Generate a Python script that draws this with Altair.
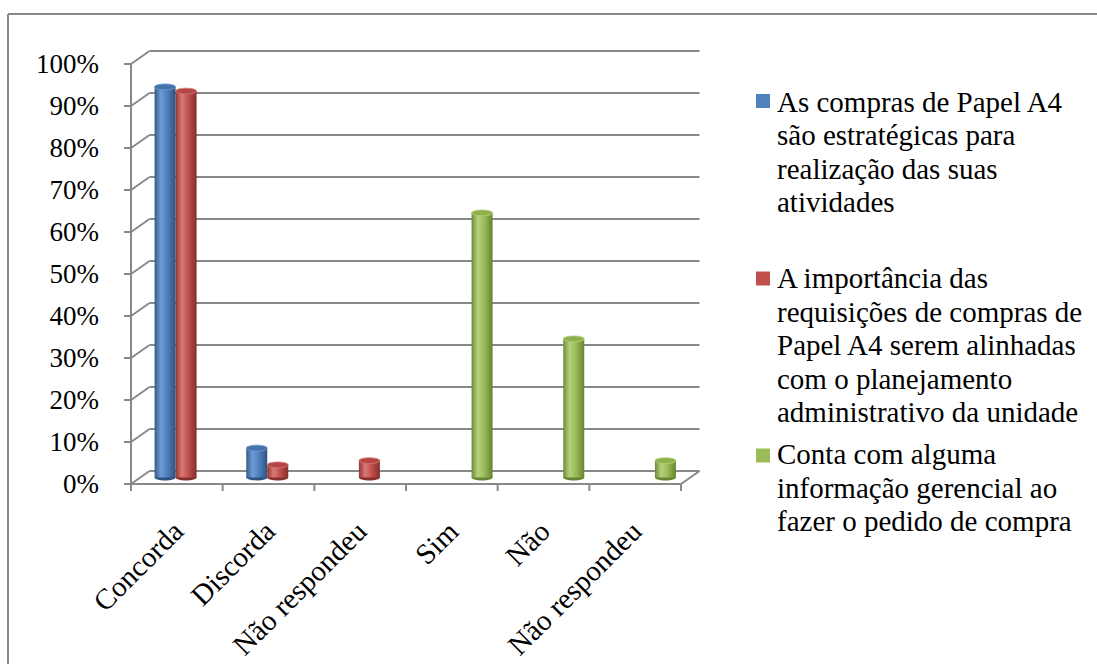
import altair as alt
import pandas as pd

# ---- data ----
categories = ["Concorda", "Discorda", "Não respondeu", "Sim", "Não", "Não respondeu"]
series_labels = [
    "As compras de Papel A4\nsão estratégicas para\nrealização das suas\natividades",
    "A importância das\nrequisições de compras de\nPapel A4 serem alinhadas\ncom o planejamento\nadministrativo da unidade",
    "Conta com alguma\ninformação gerencial ao\nfazer o pedido de compra",
]
compras_estrategicas = [93, 7, None, None, None, None]
importancia_alinhamento = [92, 3, 4, None, None, None]
informacao_gerencial = [None, None, None, 63, 33, 4]
y_ticks = [0, 10, 20, 30, 40, 50, 60, 70, 80, 90, 100]

series_values = [compras_estrategicas, importancia_alinhamento, informacao_gerencial]

# body gradient (dark edge, highlight, base, dark edge) and cap colour per series
palette = [
    {"edge": "#355A88", "light": "#6F9BD6", "base": "#4F81BD", "dark": "#2E5280", "cap": "#4672AB"},
    {"edge": "#8E3532", "light": "#DA7A77", "base": "#C0504D", "dark": "#842F2C", "cap": "#B44744"},
    {"edge": "#6E8A38", "light": "#B5D27A", "base": "#9BBB59", "dark": "#67832F", "cap": "#90B04E"},
]

W, H = 560, 420                # front plane of the plot
DEPTH_X, DEPTH_Y = 18.5, -13   # back wall displacement
BAR_W = 21
TICK = 7
FONT = "Liberation Serif, Times New Roman, DejaVu Serif, serif"
GRID = "#888888"
N = len(categories)

xscale = alt.Scale(domain=[0, N], nice=False, zero=False)
yscale = alt.Scale(domain=[0, 100], nice=False)

grid_df = pd.DataFrame({"v": y_ticks})
one_df = pd.DataFrame({"v": [0]})
bound_df = pd.DataFrame({"b": list(range(N + 1))})
cat_df = pd.DataFrame({"pos": [i + 0.5 for i in range(N)], "label": categories})


def X(field=None, datum=None):
    if field is not None:
        return alt.X(field, scale=xscale, axis=None)
    return alt.X(datum=datum, scale=xscale, axis=None)


def Y(field=None, datum=None, **kw):
    if field is not None:
        return alt.Y(field, scale=yscale, axis=None, **kw)
    return alt.Y(datum=datum, scale=yscale, axis=None, **kw)


rule = dict(color=GRID, strokeWidth=2)

# back wall gridlines
back_grid = alt.Chart(grid_df).mark_rule(
    xOffset=DEPTH_X, x2Offset=DEPTH_X, yOffset=DEPTH_Y, **rule
).encode(x=X(datum=0), x2=alt.X2(datum=N), y=Y("v:Q"))

# side wall connectors from the front axis to the back wall
side_links = alt.Chart(grid_df).mark_rule(
    x2Offset=DEPTH_X, y2Offset=DEPTH_Y, **rule
).encode(x=X(datum=0), x2=alt.X2(datum=0), y=Y("v:Q"), y2=alt.Y2("v:Q"))

# right edge of the floor
floor_edge = alt.Chart(one_df).mark_rule(
    x2Offset=DEPTH_X, y2Offset=DEPTH_Y, **rule
).encode(x=X(datum=N), x2=alt.X2(datum=N), y=Y("v:Q"), y2=alt.Y2("v:Q"))

# front axes: domain lines, ticks and labels
y_domain = alt.Chart(one_df).mark_rule(**rule).encode(
    x=X(datum=0), y=Y(datum=0), y2=alt.Y2(datum=100))
x_domain = alt.Chart(one_df).mark_rule(**rule).encode(
    x=X(datum=0), x2=alt.X2(datum=N), y=Y(datum=0))
y_tick_marks = alt.Chart(grid_df).mark_rule(x2Offset=-TICK, **rule).encode(
    x=X(datum=0), x2=alt.X2(datum=0), y=Y("v:Q"), y2=alt.Y2("v:Q"))
x_tick_marks = alt.Chart(bound_df).mark_rule(y2Offset=TICK, **rule).encode(
    x=X("b:Q"), y=Y(datum=0), y2=alt.Y2(datum=0))
y_labels = alt.Chart(grid_df).transform_calculate(
    label="datum.v + '%'"
).mark_text(
    align="right", baseline="middle", font=FONT, fontSize=27, color="black",
    xOffset=-(TICK + 25), yOffset=1,
).encode(x=X(datum=0), y=Y("v:Q"), text="label:N")
x_labels = alt.Chart(cat_df).mark_text(
    align="right", baseline="top", angle=315, font=FONT, fontSize=29,
    color="black", xOffset=-8, yOffset=33,
).encode(x=X("pos:Q"), y=Y(datum=0), text="label:N")

ellipse = "M-1,0A1,0.28,0,1,1,1,0A1,0.28,0,1,1,-1,0Z"

layers = [back_grid, side_links, floor_edge, y_domain, x_domain,
          y_tick_marks, x_tick_marks, y_labels, x_labels]

for j, (vals, col) in enumerate(zip(series_values, palette)):
    rows = [{"pos": i + 0.5, "value": v} for i, v in enumerate(vals) if v is not None]
    df = pd.DataFrame(rows)
    off = (j - 1) * BAR_W + DEPTH_X / 2
    dy = DEPTH_Y / 2
    grad = alt.Gradient(
        gradient="linear", x1=0, x2=1, y1=0, y2=0,
        stops=[
            alt.GradientStop(offset=0, color=col["edge"]),
            alt.GradientStop(offset=0.3, color=col["light"]),
            alt.GradientStop(offset=0.6, color=col["base"]),
            alt.GradientStop(offset=1, color=col["dark"]),
        ],
    )
    base = alt.Chart(df)
    bottom_cap = base.mark_point(
        shape=ellipse, size=BAR_W ** 2, filled=True, opacity=1,
        fill=col["dark"], strokeWidth=0, xOffset=off, yOffset=dy,
    ).encode(x=X("pos:Q"), y=Y(datum=0))
    body = base.mark_bar(
        size=BAR_W, fill=grad, xOffset=off, yOffset=dy, y2Offset=dy,
    ).encode(x=X("pos:Q"), y=Y("value:Q", stack=None), y2=alt.Y2(datum=0))
    top_cap = base.mark_point(
        shape=ellipse, size=BAR_W ** 2, filled=True, opacity=1,
        fill=col["cap"], stroke=col["light"], strokeWidth=0.8,
        xOffset=off, yOffset=dy,
    ).encode(x=X("pos:Q"), y=Y("value:Q"))
    layers += [bottom_cap, body, top_cap]

# outer frame of the chart area
frame_top = alt.Chart(one_df).mark_rule(**rule).encode(
    x=alt.value(-118), x2=alt.value(1000), y=alt.value(-50))
frame_left = alt.Chart(one_df).mark_rule(**rule).encode(
    x=alt.value(-118), y=alt.value(-50), y2=alt.value(700))
layers += [frame_top, frame_left]

# legend: swatch + wrapped label per series
legend_swatch_y = [37, 214.5, 391.5]
legend_text_y = [47.7, 224, 400]
for j, col in enumerate(palette):
    sw = alt.Chart(one_df).mark_square(
        size=196, filled=True, opacity=1, color=col["base"]
    ).encode(x=alt.value(637), y=alt.value(legend_swatch_y[j]))
    tx = alt.Chart(one_df).mark_text(
        align="left", baseline="alphabetic", font=FONT, fontSize=29,
        lineBreak="\n", lineHeight=33.5, color="black",
    ).encode(x=alt.value(651), y=alt.value(legend_text_y[j]), text=alt.value(series_labels[j]))
    layers += [sw, tx]

chart = alt.layer(*layers).properties(
    width=W, height=H,
    autosize=alt.AutoSizeParams(type="none"),
    padding={"left": 126, "top": 64, "right": 411, "bottom": 180},
    background="white",
).configure_view(stroke=None)

chart.save("out.html", embed_options={"renderer": "svg", "actions": False})
